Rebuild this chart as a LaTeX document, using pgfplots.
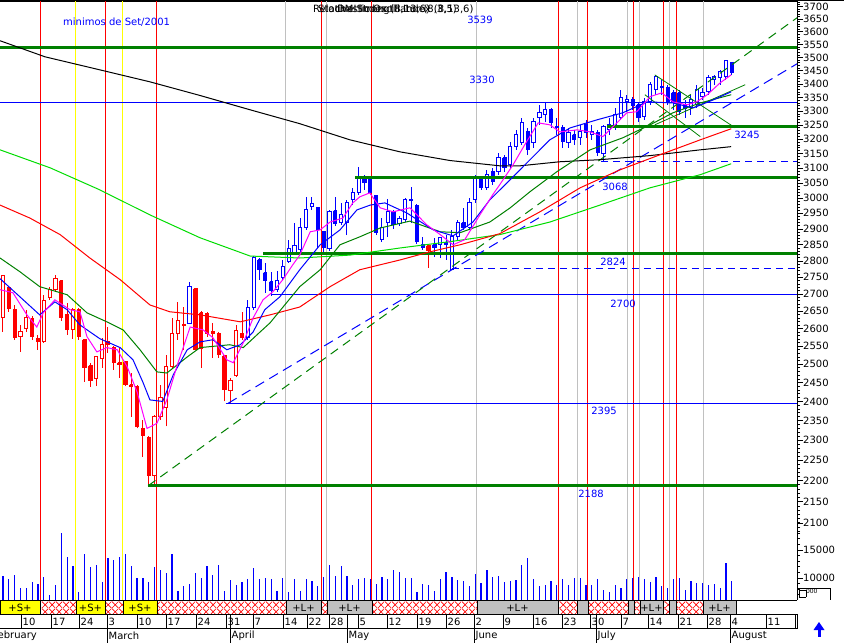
\documentclass[border=0pt]{standalone}
\usepackage{fontspec}
\setmainfont{DejaVu Sans}
\usepackage{pgfplots}
\usepackage{pgfplotstable}
\pgfplotsset{compat=1.18}
\usetikzlibrary{patterns.meta}

\definecolor{dkgreen}{RGB}{0,128,0}
\definecolor{ltgreen}{RGB}{0,220,0}
\definecolor{mag}{RGB}{255,0,255}
\definecolor{sigyel}{RGB}{255,255,0}
\definecolor{siggray}{RGB}{192,192,192}

\newcommand\tickfont{\fontsize{10}{12}\selectfont}

\tikzdeclarepattern{
  name=redx, type=uncolored,
  bounding box={(0pt,0pt) and (7pt,7pt)},
  tile size={(7pt,7pt)},
  code={\draw[line width=0.7pt] (0pt,0pt) -- (7pt,7pt) (0pt,7pt) -- (7pt,0pt);}
}

% daily candles: day index, open, high, low, close, red(1)/blue(0)
\pgfplotstableread{
i o h l c r
0 2632 2758 2590 2755 1
1 2719 2725 2648 2657 1
2 2654 2668 2568 2574 1
3 2577 2610 2534 2590 1
4 2599 2654 2590 2632 1
5 2628 2636 2568 2577 1
6 2571 2582 2540 2562 1
7 2562 2698 2559 2680 1
8 2689 2722 2683 2713 1
9 2713 2758 2707 2746 1
10 2740 2743 2622 2631 1
11 2639 2674 2582 2596 1
12 2596 2660 2571 2654 1
13 2654 2660 2568 2577 1
14 2568 2571 2452 2490 1
15 2496 2504 2439 2455 1
16 2460 2523 2441 2520 1
17 2515 2574 2490 2554 1
18 2562 2604 2531 2554 1
19 2546 2550 2485 2504 1
20 2504 2546 2463 2499 1
21 2507 2510 2441 2444 1
22 2444 2476 2360 2439 1
23 2441 2444 2330 2335 1
24 2330 2352 2258 2311 1
25 2306 2311 2188 2212 1
26 2212 2365 2188 2360 1
27 2360 2444 2352 2410 1
28 2383 2526 2335 2493 1
29 2493 2631 2490 2587 1
30 2585 2677 2568 2622 1
31 2612 2662 2540 2608 1
32 2613 2737 2612 2722 0
33 2716 2719 2538 2540 1
34 2645 2650 2490 2543 1
35 2642 2648 2577 2587 1
36 2590 2616 2518 2587 1
37 2585 2590 2518 2526 1
38 2523 2526 2400 2431 1
39 2428 2462 2395 2455 1
40 2468 2610 2465 2593 1
41 2587 2648 2568 2574 1
42 2574 2683 2568 2660 0
43 2660 2815 2654 2812 0
44 2803 2809 2743 2773 0
45 2764 2794 2704 2740 0
46 2737 2767 2695 2710 0
47 2713 2770 2707 2740 0
48 2749 2803 2743 2782 0
49 2797 2866 2794 2837 0
50 2825 2919 2820 2847 0
51 2834 2935 2828 2906 0
52 2903 3004 2897 2964 0
53 2971 3004 2961 2981 0
54 2968 2971 2840 2897 0
55 2891 2894 2828 2843 0
56 2837 2961 2831 2955 0
57 2958 3004 2910 2916 0
58 2919 2984 2913 2945 0
59 2919 2994 2880 2984 0
60 2994 3034 2977 3017 0
61 3017 3104 3011 3071 0
62 3071 3078 3027 3051 0
63 3071 3075 3011 3017 0
64 3007 3011 2882 2888 0
65 2866 2935 2860 2906 0
66 2919 2997 2875 2955 0
67 2955 2961 2900 2913 0
68 2916 2942 2910 2932 0
69 2929 3000 2922 2994 0
70 2994 3037 2919 2991 0
71 2977 2981 2853 2860 0
72 2850 2875 2834 2843 0
73 2847 2850 2779 2831 1
74 2850 2872 2812 2843 0
75 2850 2875 2809 2872 0
76 2857 2882 2803 2850 0
77 2773 2897 2773 2875 0
78 2875 2929 2866 2922 0
79 2919 2968 2897 2906 0
80 2906 3000 2900 2984 0
81 2994 3078 2984 3068 0
82 3068 3075 3027 3034 0
83 3034 3094 3027 3078 0
84 3088 3101 3044 3054 0
85 3088 3153 3078 3136 0
86 3136 3146 3088 3101 0
87 3112 3191 3101 3174 0
88 3174 3233 3163 3216 0
89 3188 3276 3181 3258 0
90 3226 3240 3146 3163 0
91 3188 3276 3170 3262 0
92 3276 3323 3251 3294 0
93 3287 3330 3262 3305 0
94 3305 3312 3240 3258 0
95 3244 3276 3216 3240 0
96 3240 3251 3170 3191 0
97 3188 3240 3170 3223 0
98 3216 3233 3181 3198 0
99 3205 3251 3181 3226 0
100 3251 3269 3205 3223 0
101 3216 3251 3198 3226 0
102 3223 3233 3143 3153 0
103 3150 3251 3122 3244 0
104 3233 3276 3216 3251 0
105 3244 3312 3233 3287 0
106 3276 3378 3269 3349 0
107 3334 3360 3298 3341 0
108 3341 3353 3305 3319 0
109 3323 3334 3262 3276 0
110 3280 3349 3269 3334 0
111 3334 3408 3323 3397 0
112 3378 3434 3360 3427 0
113 3389 3416 3360 3386 0
114 3386 3397 3323 3334 0
115 3367 3378 3305 3330 0
116 3367 3378 3287 3298 0
117 3323 3341 3276 3309 0
118 3312 3360 3287 3341 0
119 3323 3397 3312 3378 0
120 3353 3386 3341 3367 0
121 3371 3434 3360 3423 0
122 3416 3434 3397 3427 0
123 3423 3453 3397 3446 0
124 3427 3491 3416 3487 0
125 3480 3483 3434 3442 0
}\candles

\pgfplotstableread{
i v
0 10350
1 9800
2 10550
3 8200
4 8200
5 9300
6 8950
7 10200
8 6950
9 8750
10 18050
11 13750
12 12150
13 7500
14 14300
15 11950
16 12300
17 9300
18 13550
19 13200
20 13750
21 14300
22 12150
23 10000
24 10000
25 9300
26 11950
27 11450
28 10900
29 14300
30 7700
31 8550
32 8950
33 10900
34 10000
35 12150
36 10550
37 12300
38 7700
39 9650
40 8750
41 9300
42 9800
43 11800
44 9800
45 10000
46 9800
47 7700
48 10000
49 7500
50 9800
51 7700
52 9800
53 9450
54 8550
55 10200
56 12300
57 10350
58 12150
59 10350
60 8750
61 9800
62 10000
63 9800
64 8950
65 10200
66 9800
67 11450
68 11050
69 10000
70 10000
71 7500
72 8950
73 8750
74 7700
75 9800
76 11050
77 10200
78 9650
79 9450
80 8550
81 10700
82 9100
83 11450
84 10200
85 10350
86 9300
87 9450
88 9650
89 12300
90 13550
91 9800
92 8550
93 8750
94 9450
95 8750
96 9800
97 8750
98 10000
99 10000
100 8750
101 8750
102 9800
103 7850
104 7500
105 8750
106 8200
107 9800
108 10000
109 10200
110 9800
111 9300
112 10200
113 8550
114 8200
115 9800
116 10000
117 7850
118 9450
119 9100
120 9100
121 8750
122 8950
123 8200
124 12700
125 9450
}\vols

\newcommand\seg[3]{\addplot[#3, draw=black, line width=0.8pt] coordinates {(#1,29) (#2,29) (#2,43) (#1,43) (#1,29)};}

\begin{document}
\begin{tikzpicture}[font=\tickfont]
\useasboundingbox (0pt,0pt) rectangle (844pt,-643pt);
\clip (0pt,0pt) rectangle (844pt,-643pt);

% ---------------- price panel ----------------
\begin{axis}[
  at={(0pt,-600pt)}, anchor=south west, scale only axis,
  width=797pt, height=599pt,
  xmin=-0.5146, xmax=136.19,
  ymode=log, ymin=1930.8, ymax=3724.6,
  axis x line*=top, axis y line*=right,
  xtick=\empty,
  ytick={2100,2150,...,3700},
  yticklabels={2100,2150,2200,2250,2300,2350,2400,2450,2500,2550,2600,2650,2700,2750,2800,2850,2900,2950,3000,3050,3100,3150,3200,3250,3300,3350,3400,3450,3500,3550,3600,3650,3700},
  minor ytick={2080,2090,...,3720},
  tick align=outside, major tick length=6pt, minor tick length=3pt,
  every tick/.style={black, line width=0.8pt},
  axis line style={line width=0.8pt},
  yticklabel style={font=\tickfont, anchor=west, inner sep=0pt},
  clip=true,
]
% signal lines
\pgfplotsinvokeforeach{6.35,17.50,26.41,54.55,63.29,95.20,100.34,108.23,113.21,115.44}{
  \addplot[red, line width=1pt] coordinates {(#1,1930.8) (#1,3724.6)};}
\pgfplotsinvokeforeach{12.52,20.58}{
  \addplot[sigyel, line width=1pt] coordinates {(#1,1930.8) (#1,3724.6)};}
\pgfplotsinvokeforeach{48.54,55.57,81.30,98.46,107.20,109.26,114.24,120.07}{
  \addplot[siggray, line width=1pt] coordinates {(#1,1930.8) (#1,3724.6)};}

% candles
\pgfplotstablegetrowsof{\candles}
\pgfmathtruncatemacro\nrows{\pgfplotsretval-1}
\pgfplotsforeachungrouped \k in {0,...,\nrows}{%
  \pgfplotstablegetelem{\k}{i}\of\candles \let\cX\pgfplotsretval
  \pgfplotstablegetelem{\k}{o}\of\candles \let\cO\pgfplotsretval
  \pgfplotstablegetelem{\k}{h}\of\candles \let\cH\pgfplotsretval
  \pgfplotstablegetelem{\k}{l}\of\candles \let\cL\pgfplotsretval
  \pgfplotstablegetelem{\k}{c}\of\candles \let\cC\pgfplotsretval
  \pgfplotstablegetelem{\k}{r}\of\candles \let\cR\pgfplotsretval
  \ifnum\cR=1 \def\cCol{red}\else\def\cCol{blue}\fi
  \ifnum\cC>\cO\relax \def\cFill{white}\else\let\cFill\cCol\fi
  \pgfmathsetmacro\xa{\cX-0.28}%
  \pgfmathsetmacro\xb{\cX+0.28}%
  \edef\doit{%
    \noexpand\addplot[\cCol, line width=1pt] coordinates {(\cX,\cL) (\cX,\cH)};
    \noexpand\addplot[draw=\cCol, fill=\cFill, line width=1pt] coordinates {(\xa,\cO) (\xb,\cO) (\xb,\cC) (\xa,\cC) (\xa,\cO)};
  }\doit
}

% support / resistance
\addplot[dkgreen, line width=3pt] coordinates {(-0.5146,3539) (136.19,3539)};
\addplot[dkgreen, line width=3pt] coordinates {(103.6,3245) (136.19,3245)};
\addplot[dkgreen, line width=3pt] coordinates {(60.38,3068) (136.19,3068)};
\addplot[dkgreen, line width=3pt] coordinates {(44.6,2824) (136.19,2824)};
\addplot[dkgreen, line width=3pt] coordinates {(24.87,2188) (136.19,2188)};
\addplot[blue, line width=1pt] coordinates {(-0.5146,3330) (136.19,3330)};
\addplot[blue, line width=1pt] coordinates {(46,2700) (136.19,2700)};
\addplot[blue, line width=1pt] coordinates {(38.2,2395) (136.19,2395)};
\addplot[blue, line width=1pt, dash pattern=on 7pt off 5pt] coordinates {(102.6,3122) (136.19,3122)};
\addplot[blue, line width=1pt, dash pattern=on 7pt off 5pt] coordinates {(77,2776) (136.19,2776)};

% trend lines
\addplot[blue, line width=1pt, dash pattern=on 10pt off 6pt] coordinates {(38.6,2395) (136.19,3476)};
\addplot[dkgreen, line width=1pt, dash pattern=on 9pt off 6pt] coordinates {(24.9,2188) (136.19,3656)};
\addplot[dkgreen, line width=0.8pt] coordinates {(111.8,3434) (125.6,3240)};
\addplot[dkgreen, line width=0.8pt] coordinates {(110.1,3360) (119.6,3209)};
\addplot[dkgreen, line width=0.8pt] coordinates {(111.8,3251) (127.3,3397)};

% moving averages
\addplot[black, line width=1pt] coordinates {(-0.51,3565) (7.2,3503) (16.6,3453) (25.2,3408) (33.8,3357) (42.4,3305) (50.9,3255) (59.5,3198) (68.1,3156) (76.7,3126) (85.2,3108) (88.7,3108) (95.5,3122) (102.4,3129) (111,3143) (119.6,3163) (124.9,3174)};
\addplot[ltgreen, line width=1pt] coordinates {(-0.51,3163) (8.1,3101) (16.6,3027) (25.2,2945) (33.8,2872) (42.4,2815) (50.9,2809) (59.5,2818) (68.1,2840) (76.7,2860) (85.2,2882) (93.8,2922) (102.4,2977) (111,3034) (119.6,3078) (124.9,3115)};
\addplot[red, line width=1pt] coordinates {(-0.51,2977) (4.6,2935) (9.8,2882) (14.9,2809) (20.1,2743) (25.2,2668) (28.6,2648) (33.8,2639) (40.7,2619) (45.8,2639) (50.9,2662) (56.1,2722) (61.2,2773) (68.1,2803) (73.2,2828) (78.4,2850) (85.2,2885) (92.1,2955) (99,3034) (105.8,3094) (112.7,3146) (119.6,3198) (124.9,3237)};
\addplot[dkgreen, line width=1pt] coordinates {(-0.51,2809) (2.9,2767) (6.3,2722) (11,2698) (14.4,2645) (17.8,2619) (20.6,2596) (23.5,2540) (26.4,2479) (28.1,2476) (31.6,2520) (33.8,2546) (38.9,2554) (41.2,2546) (44.1,2590) (45.8,2616) (50.9,2722) (54.4,2773) (57.8,2850) (61.2,2875) (64.7,2903) (69.8,2925) (75,2891) (78.4,2888) (83.5,2922) (87,2968) (90.4,3021) (95,3088) (100.7,3163) (106.3,3205) (111,3251) (114.9,3294) (119.6,3330) (124.9,3360)};
\addplot[blue, line width=1pt] coordinates {(-0.51,2746) (6.3,2639) (8.9,2677) (11,2654) (13.2,2610) (16.6,2571) (20.1,2546) (22.3,2512) (24,2451) (25.2,2404) (27.4,2400) (29.2,2471) (31.6,2540) (33.8,2562) (36,2568) (38.4,2540) (40.7,2554) (42.9,2590) (44.9,2654) (47.5,2692) (50.9,2773) (54.4,2850) (57.8,2897) (60.7,2961) (63,2977) (65.5,2984) (69.3,2951) (73.8,2897) (77.2,2878) (80.6,2922) (83.5,2994) (87,3061) (90.4,3129) (93.8,3198) (97.3,3240) (101.9,3269) (106.3,3294) (110.5,3334) (114.9,3330) (118.4,3312) (121.8,3341) (124.9,3371)};
\addplot[mag, line width=1pt] coordinates {(-0.51,2713) (1.7,2704) (4.1,2639) (5.8,2604) (6.9,2645) (8.9,2683) (11.5,2654) (13.2,2648) (14.4,2577) (16.1,2534) (17.8,2546) (19.6,2540) (21.3,2493) (23,2425) (24.7,2330) (26.4,2343) (28.1,2404) (29.8,2493) (32.1,2604) (34.3,2596) (36,2574) (38.4,2512) (39.5,2504) (41.2,2559) (42.9,2630) (44.6,2683) (46.3,2707) (48,2743) (49.7,2788) (50.9,2818) (52.7,2891) (54.4,2897) (56.1,2922) (58.3,2935) (60,2984) (61.2,3004) (62.9,3017) (64.7,2968) (66.9,2955) (69.8,2968) (72.7,2913) (75,2882) (77.2,2850) (79.2,2866) (81.8,2945) (84,3011) (85.2,3044) (87.5,3112) (89.5,3181) (91.8,3258) (93.8,3251) (95.5,3226) (98.5,3233) (100.7,3226) (102.9,3209) (105.3,3258) (107,3294) (108.7,3298) (111,3353) (113,3367) (114.9,3334) (117.3,3323) (119,3334) (120.8,3360) (123,3404) (124.9,3434)};
\end{axis}

% ---------------- volume ----------------
\begin{axis}[
  at={(0pt,-600pt)}, anchor=south west, scale only axis,
  width=797pt, height=80pt,
  xmin=-0.5146, xmax=136.19,
  ymin=6071, ymax=20357,
  axis x line=none, axis y line*=right,
  scaled y ticks=false,
  ytick={10000,15000}, yticklabels={10000,15000},
  minor ytick={7000,8000,...,20000},
  tick align=outside, major tick length=6pt, minor tick length=3pt,
  every tick/.style={black, line width=0.8pt},
  axis line style={line width=0.8pt},
  yticklabel style={font=\tickfont, anchor=west, inner sep=0pt},
  clip=true,
]
\addplot[ycomb, blue, line width=1.2pt] table[x=i, y=v] {\vols};
\end{axis}

% ---------------- signal strip ----------------
\begin{axis}[
  at={(0pt,-643pt)}, anchor=south west, scale only axis,
  width=797pt, height=43pt,
  xmin=-0.5146, xmax=136.19, ymin=0, ymax=43,
  hide axis, clip=false,
]
\seg{-0.5146}{6.35}{fill=sigyel}
\seg{6.35}{12.52}{pattern=redx, pattern color=red}
\seg{12.52}{17.50}{fill=sigyel}
\seg{17.50}{20.58}{pattern=redx, pattern color=red}
\seg{20.58}{26.41}{fill=sigyel}
\seg{26.41}{48.54}{pattern=redx, pattern color=red}
\seg{48.54}{54.55}{fill=siggray}
\seg{54.55}{55.57}{pattern=redx, pattern color=red}
\seg{55.57}{63.29}{fill=siggray}
\seg{63.29}{81.30}{pattern=redx, pattern color=red}
\seg{81.30}{95.20}{fill=siggray}
\seg{95.20}{98.46}{pattern=redx, pattern color=red}
\seg{98.46}{100.34}{fill=siggray}
\seg{100.34}{107.20}{pattern=redx, pattern color=red}
\seg{107.20}{108.23}{fill=siggray}
\seg{108.23}{109.26}{pattern=redx, pattern color=red}
\seg{109.26}{113.21}{fill=siggray}
\seg{113.21}{114.24}{pattern=redx, pattern color=red}
\seg{114.24}{115.44}{fill=siggray}
\seg{115.44}{120.07}{pattern=redx, pattern color=red}
\seg{120.07}{125.73}{fill=siggray}
\end{axis}

% frame of the date rows
\draw[line width=1.2pt] (0pt,-0.6pt) -- (844pt,-0.6pt);
\draw[line width=0.8pt] (0pt,-600pt) -- (797pt,-600pt);
\draw[line width=0.8pt] (0pt,-614pt) -- (797pt,-614pt);
\draw[line width=0.8pt] (0pt,-628.5pt) -- (797pt,-628.5pt);
\draw[line width=0.8pt] (797pt,-614pt) -- (797pt,-628.5pt);
\foreach \x/\t in {20/+S+,90.5/+S+,140/+S+,303.5/+L+,349.5/+L+,517.5/+L+,651.5/+L+,719.5/+L+}
  \node[inner sep=0pt] at (\x pt,-607.5pt) {\t};
\foreach \x/\t in {21/10,51/17,79/24,107/3,137/10,166/17,196/24,226/31,253/7,283/14,307/22,329/28,358/5,387/12,417/19,446/26,474/2,503/9,533/16,562/23,590/30,621/7,648/14,678/21,707/28,730/4,766/11}{
  \draw[line width=0.8pt] (\x pt,-614pt) -- (\x pt,-628.5pt);
  \node[anchor=west, inner sep=0pt] at (\x pt+1.5pt,-621.5pt) {\t};}
\draw[line width=0.8pt] (795pt,-614pt) -- (795pt,-628.5pt);
\foreach \x/\t in {107/March,230/April,347/May,474/June,596/July,730/August}{
  \draw[line width=0.8pt] (\x pt,-614pt) -- (\x pt,-643pt);
  \node[anchor=west, inner sep=0pt] at (\x pt+1.5pt,-636pt) {\t};}
\node[anchor=east, inner sep=0pt] at (37pt,-636pt) {February};

% small widgets at the right
\draw[line width=0.8pt] (797pt,-588pt) -- (830pt,-588pt) -- (830pt,-600pt);
\node[anchor=west, inner sep=0pt, font=\fontsize{6}{6}\selectfont] at (799pt,-593pt) {\fbox{}000};
\fill[blue] (813.5pt,-630pt) -- (819pt,-622pt) -- (824.5pt,-630pt) -- cycle;
\fill[blue] (817.5pt,-630pt) rectangle (820.5pt,-637pt);

% titles and level labels
\node[anchor=west, inner sep=0pt] at (313pt,-9.5pt) {Relative Strength Index (8,13,6)};
\node[anchor=west, inner sep=0pt] at (318pt,-9.5pt) {Stochastic Oscillator (8,3,5)};
\node[anchor=west, inner sep=0pt] at (337pt,-9.5pt) {DMI Index (8,13,6)};
\begin{scope}[blue]
\node[anchor=west, inner sep=0pt] at (63pt,-22pt) {minimos de Set/2001};
\node at (480pt,-20pt) {3539};
\node at (482pt,-80pt) {3330};
\node at (747pt,-135pt) {3245};
\node at (615pt,-187pt) {3068};
\node at (613pt,-262pt) {2824};
\node at (623pt,-304pt) {2700};
\node at (604pt,-411pt) {2395};
\node at (591pt,-494pt) {2188};
\end{scope}
\end{tikzpicture}
\end{document}
